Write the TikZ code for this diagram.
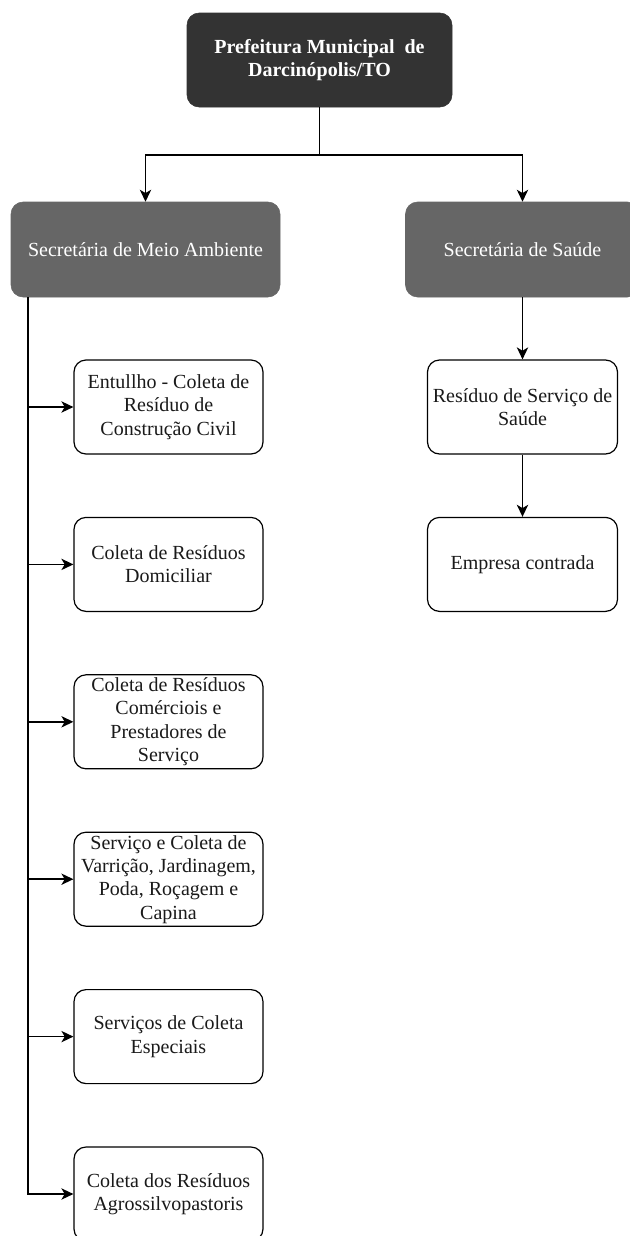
\documentclass[tikz,border=0pt]{standalone}
\usepackage{fontspec}
\setmainfont{Liberation Serif}
\usetikzlibrary{arrows.meta,positioning}
\definecolor{topfill}{HTML}{333333}
\definecolor{secfill}{HTML}{666666}
\definecolor{txt}{HTML}{1A1A1A}
\tikzset{
  base/.style={rounded corners=9pt, align=center, inner sep=0pt,
    font=\fontsize{15}{17.5}\selectfont},
  topbox/.style={base, fill=topfill, draw=topfill, text=white,
    font=\fontsize{15}{17.5}\selectfont\bfseries,
    minimum width=198.75pt, minimum height=70.5pt},
  secbox/.style={base, fill=secfill, draw=secfill, text=white,
    minimum height=71.25pt},
  itembox/.style={base, draw=black, line width=0.9pt, fill=white, text=txt,
    minimum width=141.75pt, minimum height=70.5pt},
  arr/.style={draw=black, line width=1.1pt,
    -{Stealth[length=9pt,width=8.5pt,inset=2.5pt]}},
  plain/.style={draw=black, line width=1.1pt}
}
\begin{document}
\begin{tikzpicture}[x=0.75pt,y=-0.75pt]
\useasboundingbox (0,0) rectangle (630,1236);
\clip (0,0) rectangle (630,1236);

\node[topbox] (top) at (319.5,60) {Prefeitura Municipal\ \ de\\Darcinópolis/TO};

\node[secbox, minimum width=201.75pt] (sma) at (145.5,249.5) {Secretária de Meio Ambiente};
\node[secbox, minimum width=175.5pt] (ss) at (522.5,249.5) {Secretária de Saúde};

\node[itembox] (b1) at (168.5,407) {Entullho - Coleta de\\Resíduo de\\Construção Civil};
\node[itembox] (b2) at (168.5,564.4) {Coleta de Resíduos\\Domiciliar};
\node[itembox] (b3) at (168.5,721.8) {Coleta de Resíduos\\Comérciois e\\Prestadores de\\Serviço};
\node[itembox] (b4) at (168.5,879.2) {Serviço e Coleta de\\Varrição, Jardinagem,\\Poda, Roçagem e\\Capina};
\node[itembox] (b5) at (168.5,1036.6) {Serviços de Coleta\\Especiais};
\node[itembox] (b6) at (168.5,1194) {Coleta dos Resíduos\\Agrossilvopastoris};

\node[itembox, minimum width=142.5pt] (r1) at (522.5,407) {Resíduo de Serviço de\\Saúde};
\node[itembox, minimum width=142.5pt] (r2) at (522.5,564.4) {Empresa contrada};

\coordinate (j) at (319.5,155);
\draw[plain] (top.south) -- (j);
\draw[arr] (j) -| (sma.north);
\draw[arr] (j) -| (ss.north);

\coordinate (sp) at (28,0);
\foreach \b in {b1,b2,b3,b4,b5,b6}{
  \draw[arr] (sp |- sma.south) |- (\b.west);
}

\draw[arr] (ss.south) -- (r1.north);
\draw[arr] (r1.south) -- (r2.north);
\end{tikzpicture}
\end{document}
